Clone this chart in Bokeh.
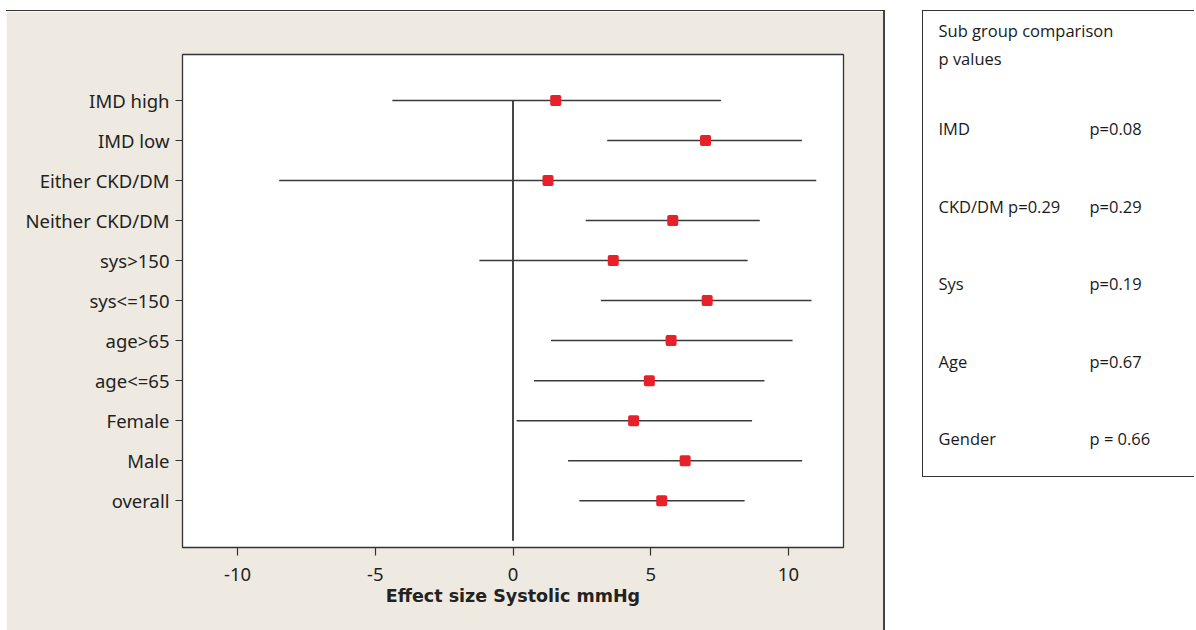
from bokeh.plotting import figure
from bokeh.layouts import row, column
from bokeh.models import Spacer, Range1d, FixedTicker, ColumnDataSource
from bokeh.embed import file_html
from bokeh.resources import INLINE
from bokeh.core.properties import value

# ---- data (bottom to top) ----
categories = ["overall", "Male", "Female", "age<=65", "age>65", "sys<=150",
              "sys>150", "Neither CKD/DM", "Either CKD/DM", "IMD low", "IMD high"]
effect = [5.40, 6.25, 4.38, 4.95, 5.74, 7.05, 3.64, 5.80, 1.27, 6.99, 1.55]
lower = [2.41, 2.00, 0.13, 0.76, 1.38, 3.19, -1.22, 2.64, -8.49, 3.42, -4.38]
upper = [8.41, 10.50, 8.68, 9.13, 10.15, 10.84, 8.52, 8.96, 11.01, 10.49, 7.55]
x_ticks = [-10, -5, 0, 5, 10]

box_title = ["Sub group comparison", "p values"]
groups = ["IMD", "CKD/DM  p=0.29", "Sys", "Age", "Gender"]
p_values = ["p=0.08", "p=0.29", "p=0.19", "p=0.67", "p = 0.66"]

BEIGE = "#EEEAE1"
DARK = "#333333"
RED = "#E8202A"
FONT = "Noto Sans"

ypos = list(range(1, len(categories) + 1))
src = ColumnDataSource(dict(y=ypos, cat=categories, est=effect, lo=lower, hi=upper))

p1 = figure(width=879, height=620, x_range=Range1d(-12, 12),
            y_range=Range1d(-0.17, len(categories) + 1.15),
            output_backend="svg", toolbar_location=None,
            min_border_left=176, min_border_right=42, min_border_top=43,
            min_border_bottom=84, background_fill_color="white",
            border_fill_color=BEIGE, outline_line_color=DARK, outline_line_width=1.3)
p1.styles = {"border-top": "1px solid #333333", "border-right": "2px solid #444444"}
p1.grid.visible = False

# x axis
xa = p1.xaxis[0]
xa.ticker = FixedTicker(ticks=x_ticks)
xa.major_label_overrides = {t: str(t) for t in x_ticks}
xa.axis_line_color = None
xa.major_tick_out = 8
xa.major_tick_in = 0
xa.minor_tick_line_color = None
xa.major_tick_line_color = DARK
xa.major_tick_line_width = 1.2
xa.major_label_text_font = FONT
xa.major_label_text_font_size = "18.5px"
xa.major_label_text_color = "#222222"
xa.major_label_standoff = 12
xa.axis_label = "Effect size Systolic mmHg"
xa.axis_label_text_font = "DejaVu Sans"
xa.axis_label_text_font_style = "bold"
xa.axis_label_text_font_size = "17.5px"
xa.axis_label_text_color = "#222222"
xa.axis_label_standoff = 2

# y axis
ya = p1.yaxis[0]
ya.ticker = FixedTicker(ticks=ypos)
ya.major_label_overrides = {y: c for y, c in zip(ypos, categories)}
ya.axis_line_color = None
ya.major_tick_out = 7
ya.major_tick_in = 0
ya.minor_tick_line_color = None
ya.major_tick_line_color = DARK
ya.major_tick_line_width = 1.2
ya.major_label_text_font = FONT
ya.major_label_text_font_size = "18.5px"
ya.major_label_text_color = "#222222"
ya.major_label_standoff = 6

# reference line at zero
p1.segment(x0=[0], y0=[0], x1=[0], y1=[len(categories)], line_color=DARK, line_width=1.8)
# confidence intervals
p1.segment(x0="lo", y0="y", x1="hi", y1="y", source=src, line_color="#3a3a3a", line_width=1.5)
# estimates
p1.scatter(x="est", y="y", source=src, marker="square", size=7.5, fill_color=RED,
           line_color=RED, line_width=3.5, line_join="round")

# ---- right p-value box ----
BOX_H = 467
BOX_W = 272
p2 = figure(width=BOX_W, height=BOX_H, x_range=Range1d(0, BOX_W), y_range=Range1d(BOX_H, 0),
            output_backend="svg", toolbar_location=None, min_border=0,
            min_border_left=0, min_border_right=0, min_border_top=0, min_border_bottom=0,
            outline_line_color=None, background_fill_color="white",
            border_fill_color="white")
p2.styles = {"border-left": "1px solid #333333", "border-top": "1px solid #333333",
             "border-bottom": "1px solid #333333", "border-right": "none"}
p2.axis.visible = False
p2.grid.visible = False

TF = value("Open Sans")
TS = "16.5px"
tsrc = ColumnDataSource(dict(x=[15] * len(box_title),
                             y=[19 + 28 * i for i in range(len(box_title))],
                             t=box_title))
p2.text(x="x", y="y", text="t", source=tsrc, text_font=TF,
        text_font_size=TS, text_color="#1a1a1a", text_baseline="middle")
gsrc = ColumnDataSource(dict(x=[15] * len(groups), x2=[166] * len(groups),
                             y=[117 + 77.6 * i for i in range(len(groups))],
                             g=groups, pv=p_values))
p2.text(x="x", y="y", text="g", source=gsrc, text_font=TF,
        text_font_size=TS, text_color="#1a1a1a", text_baseline="middle")
p2.text(x="x2", y="y", text="pv", source=gsrc, text_font=TF,
        text_font_size=TS, text_color="#1a1a1a", text_baseline="middle")

layout = column(Spacer(height=10),
                row(Spacer(width=6), p1, Spacer(width=37), column(p2)))

open("out.html", "w").write(file_html(layout, INLINE))
